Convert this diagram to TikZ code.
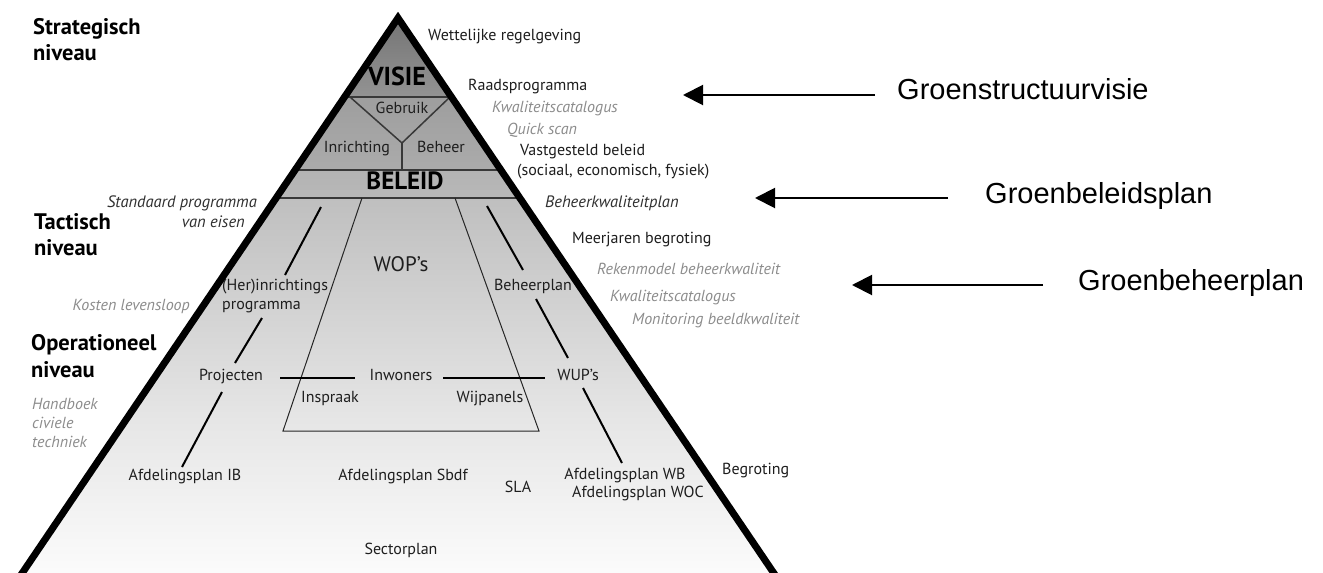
\documentclass[tikz,border=0pt]{standalone}
\usepackage{fontspec}
\setmainfont{PT Sans}
\newfontfamily\arialfont{Liberation Sans}
\usetikzlibrary{arrows.meta}
\definecolor{txtdark}{HTML}{1E1E1E}
\definecolor{txtgray}{HTML}{8C8C8C}
\definecolor{txtital}{HTML}{303030}
\definecolor{ga}{HTML}{6E6E6E}
\definecolor{gb}{HTML}{939393}
\definecolor{gc}{HTML}{9E9E9E}
\definecolor{gd}{HTML}{ABABAB}
\definecolor{ge}{HTML}{B3B3B3}
\definecolor{gf}{HTML}{B8B8B8}
\definecolor{gg}{HTML}{BFBFBF}
\definecolor{gh}{HTML}{E6E6E6}
\definecolor{gi}{HTML}{FFFFFF}
\begin{document}
\begin{tikzpicture}[x=1pt,y=-1pt,
 t/.style={inner sep=0pt, text height=0.7em, text depth=0.2em, font=\fontsize{16}{19}\selectfont, text=txtdark},
 grayit/.style={t, font=\fontsize{16}{19}\selectfont\itshape, text=txtgray},
 darkit/.style={t, font=\fontsize{16.5}{19}\selectfont\itshape, text=txtital},
 lvl/.style={t, anchor=west, font=\fontsize{22.5}{26}\selectfont\bfseries, text=black},
 big/.style={t, font=\fontsize{26}{30}\selectfont\bfseries, text=black},
 lab/.style={inner sep=0pt, anchor=west, text height=0.72em, text depth=0.2em, font=\arialfont\fontsize{29}{34}\selectfont, text=black},
 arr/.style={line width=2pt, -{Triangle[length=20pt,width=20pt]}},
 seg/.style={line width=2pt, black},
 band/.style={line width=1.5pt, black!78},
 trap/.style={line width=1pt, black!85},
]
\path[use as bounding box, fill=white] (0,0) rectangle (1323,573);

% pyramid body
\coordinate (apex) at (398,18);
\coordinate (bl) at (4,600);
\coordinate (br) at (792,600);
\begin{scope}
\clip (bl) -- (apex) -- (br) -- cycle;
\shade[top color=ga, bottom color=gb] (0,0) rectangle (800,97);
\shade[top color=gc, bottom color=gd] (0,97) rectangle (800,170);
\shade[top color=ge, bottom color=gf] (0,170) rectangle (800,198);
\shade[top color=gg, bottom color=gh] (0,198) rectangle (800,420);
\shade[top color=gh, bottom color=gi] (0,420) rectangle (800,600);
\draw[band] (0,97) -- (800,97);
\draw[band] (0,170) -- (800,170);
\draw[band] (0,198) -- (800,198);
\end{scope}

% V of Gebruik
\coordinate (vl) at (350,97);
\coordinate (vr) at (450,97);
\coordinate (vm) at (402,143);
\coordinate (vb) at (402,170);
\draw[band] (vl) -- (vm) -- (vr);
\draw[band] (vm) -- (vb);

% trapezoid (WOP's)
\coordinate (tl) at (362,198);
\coordinate (tr) at (455,198);
\coordinate (bl2) at (283,431);
\coordinate (br2) at (539,431);
\draw[trap] (tl) -- (bl2) -- (br2) -- (tr);

% inside texts
\node[big] (visie) at (397,83) {VISIE};
\node[t] (gebruik) at (402,111) {Gebruik};
\node[t] (inr) at (357,150) {Inrichting};
\node[t] (beh) at (441,150) {Beheer};
\node[big, font=\fontsize{25}{30}\selectfont\bfseries] (beleid) at (405,187) {BELEID};
\node[t, font=\fontsize{21}{24}\selectfont] (wop) at (401,269) {WOP’s};
\node[t, anchor=west] (herinr) at (222,288) {(Her)inrichtings};
\node[t, anchor=west] (prog) at (222,307) {programma};
\node[t] (beheerplan) at (533,288) {Beheerplan};
\node[t] (proj) at (231,378) {Projecten};
\node[t] (inw) at (401,378) {Inwoners};
\node[t] (wup) at (578,378) {WUP’s};
\node[t] (insp) at (330,400) {Inspraak};
\node[t] (wijp) at (490,400) {Wijpanels};
\node[t] (afdib) at (185,478) {Afdelingsplan IB};
\node[t] (afdsb) at (403,478) {Afdelingsplan Sbdf};
\node[t] (sla) at (518,490) {SLA};
\node[t] (afdwb) at (625,477) {Afdelingsplan WB};
\node[t] (afdwoc) at (638,495) {Afdelingsplan WOC};
\node[t] (sector) at (401,552) {Sectorplan};

% connecting segments
\coordinate (l1a) at (321,207); \coordinate (l1b) at (285,275);
\coordinate (l2a) at (262,318); \coordinate (l2b) at (235,363);
\coordinate (l3a) at (222,392); \coordinate (l3b) at (182,467);
\coordinate (r1a) at (487,206); \coordinate (r1b) at (523,270);
\coordinate (r2a) at (536,299); \coordinate (r2b) at (568,358);
\coordinate (r3a) at (583,388); \coordinate (r3b) at (622,463);
\coordinate (h1a) at (280,378); \coordinate (h1b) at (355,378);
\coordinate (h2a) at (443,378); \coordinate (h2b) at (545,378);
\draw[seg] (l1a) -- (l1b);
\draw[seg] (l2a) -- (l2b);
\draw[seg] (l3a) -- (l3b);
\draw[seg] (r1a) -- (r1b);
\draw[seg] (r2a) -- (r2b);
\draw[seg] (r3a) -- (r3b);
\draw[seg] (h1a) -- (h1b);
\draw[seg] (h2a) -- (h2b);

% outline
\draw[line width=7pt, line join=miter, black] (bl) -- (apex) -- (br);

% level labels
\node[lvl] (strat1) at (33,32) {Strategisch};
\node[lvl] (strat2) at (33,58) {niveau};
\node[lvl] (tact1) at (34,227) {Tactisch};
\node[lvl] (tact2) at (34,253) {niveau};
\node[lvl] (oper1) at (31,348) {Operationeel};
\node[lvl] (oper2) at (31,375) {niveau};
\node[grayit, anchor=west] (hb1) at (32,407) {Handboek};
\node[grayit, anchor=west] (hb2) at (32,426) {civiele};
\node[grayit, anchor=west] (hb3) at (32,445) {techniek};
\node[darkit, anchor=east] (spe1) at (257,205) {Standaard programma};
\node[darkit, anchor=east] (spe2) at (245,225) {van eisen};
\node[grayit, anchor=east] (kl) at (190,308) {Kosten levensloop};

% right side texts
\node[t, anchor=west] (wet) at (428,38) {Wettelijke regelgeving};
\node[t, anchor=west] (raad) at (468,88) {Raadsprogramma};
\node[grayit, anchor=west] (kc1) at (492,110) {Kwaliteitscatalogus};
\node[grayit, anchor=west] (qs) at (507,132) {Quick scan};
\node[t, anchor=west] (vb1) at (520,153) {Vastgesteld beleid};
\node[t, anchor=west] (vb2) at (517,173) {(sociaal, economisch, fysiek)};
\node[darkit, anchor=west] (bkp) at (545,205) {Beheerkwaliteitplan};
\node[t, anchor=west] (mjb) at (572,241) {Meerjaren begroting};
\node[grayit, anchor=west] (rbk) at (597,272) {Rekenmodel beheerkwaliteit};
\node[grayit, anchor=west] (kc2) at (610,299) {Kwaliteitscatalogus};
\node[grayit, anchor=west] (mbk) at (632,322) {Monitoring beeldkwaliteit};
\node[t, anchor=west] (begr) at (722,472) {Begroting};

% documents with arrows
\node[lab] (gsv) at (897,97) {Groenstructuurvisie};
\node[lab] (gbp) at (985,201) {Groenbeleidsplan};
\node[lab] (gbh) at (1078,288) {Groenbeheerplan};
\coordinate (tipA) at (683,95);
\coordinate (tipB) at (755,198);
\coordinate (tipC) at (852,285);
\draw[arr] ([xshift=-22pt]gsv.west |- tipA) -- (tipA);
\draw[arr] ([xshift=-37pt]gbp.west |- tipB) -- (tipB);
\draw[arr] ([xshift=-35pt]gbh.west |- tipC) -- (tipC);
\end{tikzpicture}
\end{document}
